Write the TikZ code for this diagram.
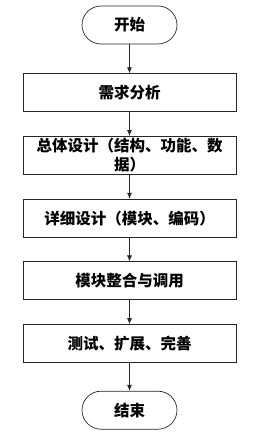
\documentclass[tikz,border=0pt]{standalone}
\usepackage{fontspec}
\newfontfamily\cjk{Noto Sans CJK SC}
\usepackage{tikz}
\usetikzlibrary{arrows.meta, positioning}

\begin{document}
\begin{tikzpicture}[
  x=1pt, y=1pt, node distance=24pt,
  font=\cjk\bfseries\fontsize{15.5}{19}\selectfont,
  pbox/.style={draw=black!85, line width=0.7pt, minimum width=213pt, minimum height=38pt, inner sep=0pt, align=center},
  tbox/.style={draw=black!85, line width=0.7pt, rounded corners=19pt, minimum width=95pt, minimum height=38pt, inner sep=0pt},
  flow/.style={draw=black!85, line width=0.7pt, -{Latex[length=6pt, width=5pt]}}
]
  \useasboundingbox (0,0) rectangle (264,-436);
  \node[tbox] (start) at (129.5, -25) {开始};
  \node[pbox, below=29pt of start] (req) {需求分析};
  \node[pbox, below=of req] (overall) {总体设计（结构、功能、数\\据）};
  \node[pbox, below=of overall] (detail) {详细设计（模块、编码）};
  \node[pbox, below=of detail] (integ) {模块整合与调用};
  \node[pbox, below=of integ] (test) {测试、扩展、完善};
  \node[tbox, below=28pt of test] (stop) {结束};

  \draw[flow] (start) -- (req);
  \draw[flow] (req) -- (overall);
  \draw[flow] (overall) -- (detail);
  \draw[flow] (detail) -- (integ);
  \draw[flow] (integ) -- (test);
  \draw[flow] (test) -- (stop);
\end{tikzpicture}
\end{document}
